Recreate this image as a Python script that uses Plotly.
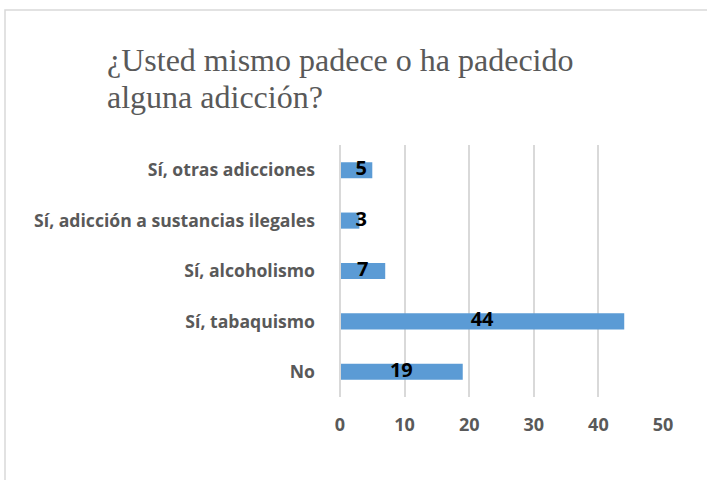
import plotly.graph_objects as go

categorias = ["No", "Sí, tabaquismo", "Sí, alcoholismo",
              "Sí, adicción a sustancias ilegales", "Sí, otras adicciones"]
valores = [19, 44, 7, 3, 5]
ticks_x = [0, 10, 20, 30, 40, 50]

titulo = ["¿Usted mismo padece o ha padecido", "alguna adicción?"]

W, H = 707, 480
ML, MR, MT, MB = 340, 44, 145, 83
pw = W - ML - MR
ph = H - MT - MB


def px_x(p):
    return (p - ML) / pw


def px_y(p):
    return (H - MB - p) / ph


fig = go.Figure()
fig.add_trace(go.Bar(
    x=valores,
    y=categorias,
    orientation="h",
    marker=dict(color="#5B9BD5", line=dict(width=0)),
    width=0.32,
    hoverinfo="skip",
))
# etiquetas de datos: centradas, pero sin pegarse al eje en barras cortas
fig.add_trace(go.Scatter(
    x=[max(v / 2, 3.3) for v in valores],
    y=categorias,
    mode="text",
    text=[str(v) for v in valores],
    textposition="middle center",
    textfont=dict(family="Open Sans", size=20, color="#000000", weight="bold"),
    hoverinfo="skip",
))

# título en dos líneas (interlineado más estrecho que el de plotly)
for linea, ypx in zip(titulo, [60, 97]):
    fig.add_annotation(
        text=linea, showarrow=False,
        xref="paper", yref="paper",
        x=px_x(105), y=px_y(ypx), xanchor="left", yanchor="middle",
        font=dict(family="Liberation Serif, Times New Roman, serif", size=32, color="#595959"),
    )

fig.update_layout(
    width=W, height=H,
    margin=dict(l=ML, r=MR, t=MT, b=MB),
    paper_bgcolor="white",
    plot_bgcolor="white",
    showlegend=False,
    xaxis=dict(
        range=[0, 50],
        tickvals=ticks_x,
        showgrid=True, gridcolor="#D9D9D9", gridwidth=2,
        zeroline=False, showline=False,
        ticks="", ticklabelstandoff=15,
        tickfont=dict(family="Open Sans", size=18, color="#595959", weight="bold"),
        fixedrange=True,
    ),
    yaxis=dict(
        showgrid=False, zeroline=False,
        showline=False,
        ticks="", ticklabelstandoff=24,
        tickfont=dict(family="Open Sans", size=17.6, color="#595959", weight="bold"),
        fixedrange=True,
    ),
    shapes=[
        dict(type="line", xref="paper", yref="paper",
             x0=0, x1=0, y0=0, y1=1,
             line=dict(color="#D9D9D9", width=2)),
        dict(type="rect", xref="paper", yref="paper",
             x0=px_x(5), x1=px_x(W + 20), y0=px_y(10), y1=px_y(H + 20),
             line=dict(color="#D9D9D9", width=1.5)),
    ],
)

# sin margen en el cuerpo de la página
fig.write_html("out.html", config={"displayModeBar": False},
               post_script="document.body.style.margin='0';")
